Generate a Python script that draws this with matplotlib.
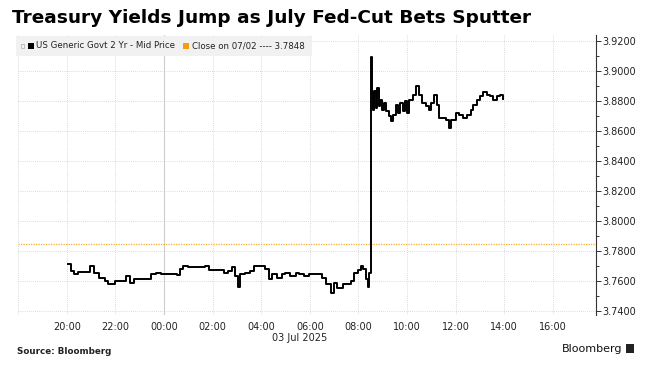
import matplotlib
matplotlib.use("Agg")
import matplotlib.pyplot as plt
import matplotlib.dates as mdates
from matplotlib.patches import Rectangle
import datetime as dt

# ---- data ----
times = ["20:02", "20:10", "20:18", "20:27", "20:51", "20:58", "21:08", "21:20", "21:33", "21:41",
         "21:58", "22:14", "22:27", "22:35", "22:47", "23:20", "23:29", "23:41", "23:53", "00:23",
         "00:31", "00:39", "00:47", "01:00", "01:25", "01:41", "01:50", "02:14", "02:27", "02:39",
         "02:47", "02:56", "03:02", "03:08", "03:20", "03:33", "03:41", "04:02", "04:10", "04:19",
         "04:27", "04:39", "04:52", "05:00", "05:12", "05:25", "05:33", "05:46", "05:58", "06:06",
         "06:19", "06:31", "06:39", "06:52", "07:00", "07:08", "07:21", "07:33", "07:41", "07:50",
         "07:58", "08:06", "08:12", "08:19", "08:23", "08:27", "08:30", "08:32", "08:34", "08:37",
         "08:39", "08:44", "08:47", "08:50", "08:53", "08:58", "09:04", "09:08", "09:15", "09:21",
         "09:26", "09:33", "09:37", "09:43", "09:50", "09:56", "10:00", "10:06", "10:15", "10:23",
         "10:30", "10:38", "10:46", "10:55", "11:00", "11:08", "11:14", "11:19", "11:29", "11:37",
         "11:44", "11:50", "12:01", "12:09", "12:19", "12:29", "12:37", "12:44", "12:52", "13:00",
         "13:08", "13:17", "13:25", "13:33", "13:42", "13:50", "13:58"]
yields = [3.7716, 3.7667, 3.7649, 3.7662, 3.7662, 3.7698, 3.7656, 3.7618, 3.7600, 3.7582,
          3.7600, 3.7600, 3.7633, 3.7589, 3.7611, 3.7611, 3.7644, 3.7656, 3.7644, 3.7644,
          3.7640, 3.7678, 3.7700, 3.7693, 3.7693, 3.7700, 3.7671, 3.7671, 3.7656, 3.7667,
          3.7693, 3.7633, 3.7560, 3.7644, 3.7656, 3.7667, 3.7700, 3.7700, 3.7678, 3.7611,
          3.7644, 3.7622, 3.7644, 3.7656, 3.7633, 3.7656, 3.7649, 3.7633, 3.7649, 3.7649,
          3.7644, 3.7622, 3.7578, 3.7522, 3.7589, 3.7556, 3.7578, 3.7582, 3.7600, 3.7656,
          3.7671, 3.7700, 3.7678, 3.7611, 3.7560, 3.7656, 3.7700, 3.9096, 3.8856, 3.8744,
          3.8867, 3.8756, 3.8889, 3.8767, 3.8811, 3.8744, 3.8789, 3.8733, 3.8700, 3.8667,
          3.8711, 3.8778, 3.8722, 3.8789, 3.8733, 3.8800, 3.8722, 3.8811, 3.8844, 3.8900,
          3.8844, 3.8789, 3.8767, 3.8744, 3.8789, 3.8844, 3.8778, 3.8689, 3.8689, 3.8678,
          3.8622, 3.8678, 3.8722, 3.8711, 3.8689, 3.8711, 3.8744, 3.8778, 3.8811, 3.8833,
          3.8860, 3.8844, 3.8833, 3.8811, 3.8833, 3.8844, 3.8816]
prev_close = 3.7848
y_ticks = [3.74, 3.76, 3.78, 3.80, 3.82, 3.84, 3.86, 3.88, 3.90, 3.92]
x_tick_labels = ["20:00", "22:00", "00:00", "02:00", "04:00", "06:00", "08:00",
                 "10:00", "12:00", "14:00", "16:00"]
series_label = "US Generic Govt 2 Yr - Mid Price"
close_label = "Close on 07/02 ---- 3.7848"
title = "Treasury Yields Jump as July Fed-Cut Bets Sputter"
date_label = "03 Jul 2025"
source = "Source: Bloomberg"


def to_dt(s):
    h, m = map(int, s.split(":"))
    day = 2 if h >= 18 else 3
    return dt.datetime(2025, 7, day, h, m)


W, H = 656, 374
def fx(px):
    return px / W
def fy(py):
    return 1 - py / H

fig = plt.figure(figsize=(W / 100, H / 100), dpi=100)
fig.patch.set_facecolor("white")
ax_l, ax_r, ax_t, ax_b = 18.3, 596, 35, 315
ax = fig.add_axes([fx(ax_l), fy(ax_b), (ax_r - ax_l) / W, (ax_b - ax_t) / H])

xs = [to_dt(t) for t in times]
ax.plot(xs, yields, color="black", lw=1.4, drawstyle="steps-post", zorder=5)
ax.axhline(prev_close, color="#f2b134", lw=0.9, ls=(0, (1, 1)), zorder=4)

x0 = dt.datetime(2025, 7, 2, 18, 0)
x1 = dt.datetime(2025, 7, 3, 17, 47)
ax.set_xlim(x0, x1)
ax.set_ylim(3.7373, 3.9243)

xt = [to_dt(s) for s in x_tick_labels]
ax.set_xticks(xt)
ax.set_xticklabels(x_tick_labels)
ax.tick_params(axis="x", length=0, pad=5, labelsize=7, labelcolor="#222222")

ax.yaxis.tick_right()
ax.set_yticks(y_ticks)
ax.set_yticklabels([f"{v:.4f}" for v in y_ticks])
ax.set_yticks([v + 0.01 for v in y_ticks[:-1]], minor=True)
ax.tick_params(axis="y", which="major", length=3.5, width=0.7, color="#333333",
               pad=1, labelsize=7, labelcolor="#222222")
ax.tick_params(axis="y", which="minor", length=2, width=0.7, color="#333333")

for s in ["top", "left", "bottom"]:
    ax.spines[s].set_visible(False)
ax.spines["right"].set_color("#333333")
ax.spines["right"].set_linewidth(0.8)

ax.grid(True, which="major", color="#cfcfcf", lw=0.6, ls=(0, (1, 1.5)))
ax.axvline(x0, color="#cfcfcf", lw=0.6, ls=(0, (1, 1.5)))
ax.axvline(dt.datetime(2025, 7, 3, 0, 0), color="#cccccc", lw=0.8, zorder=1)

# legend bar
fig.patches.append(Rectangle((fx(16), fy(56)), (312 - 16) / W, 20 / H,
                             transform=fig.transFigure, facecolor="#f1f1f1",
                             edgecolor="none", zorder=3))
fig.patches.append(Rectangle((fx(21), fy(48)), 3 / W, 4 / H, transform=fig.transFigure,
                             facecolor="none", edgecolor="#aaaaaa", lw=0.5, zorder=4))
fig.patches.append(Rectangle((fx(28), fy(49)), 6 / W, 6 / H, transform=fig.transFigure,
                             facecolor="black", edgecolor="none", zorder=4))
fig.text(fx(36.5), fy(45.8), series_label, fontsize=6.2, color="#222222", va="center", zorder=5)
fig.patches.append(Rectangle((fx(183), fy(49)), 6 / W, 6 / H, transform=fig.transFigure,
                             facecolor="#f39c12", edgecolor="none", zorder=4))
fig.text(fx(192), fy(45.8), close_label, fontsize=6.2, color="#222222", va="center", zorder=5)

fig.text(fx(12), fy(18), title, fontsize=13.3, fontweight="bold", va="center", color="black")
fig.text(fx(300), fy(338), date_label, fontsize=7, ha="center", va="center", color="#222222")
fig.text(fx(17), fy(351), source, fontsize=6.3, fontweight="bold", ha="left", va="center", color="#222222")
fig.text(fx(622), fy(349), "Bloomberg", fontsize=8, ha="right", va="center", color="#111111")
fig.patches.append(Rectangle((fx(626), fy(353)), 8 / W, 9 / H, transform=fig.transFigure,
                             facecolor="#222222", edgecolor="none", zorder=4))

fig.savefig("out.png", dpi=100)
